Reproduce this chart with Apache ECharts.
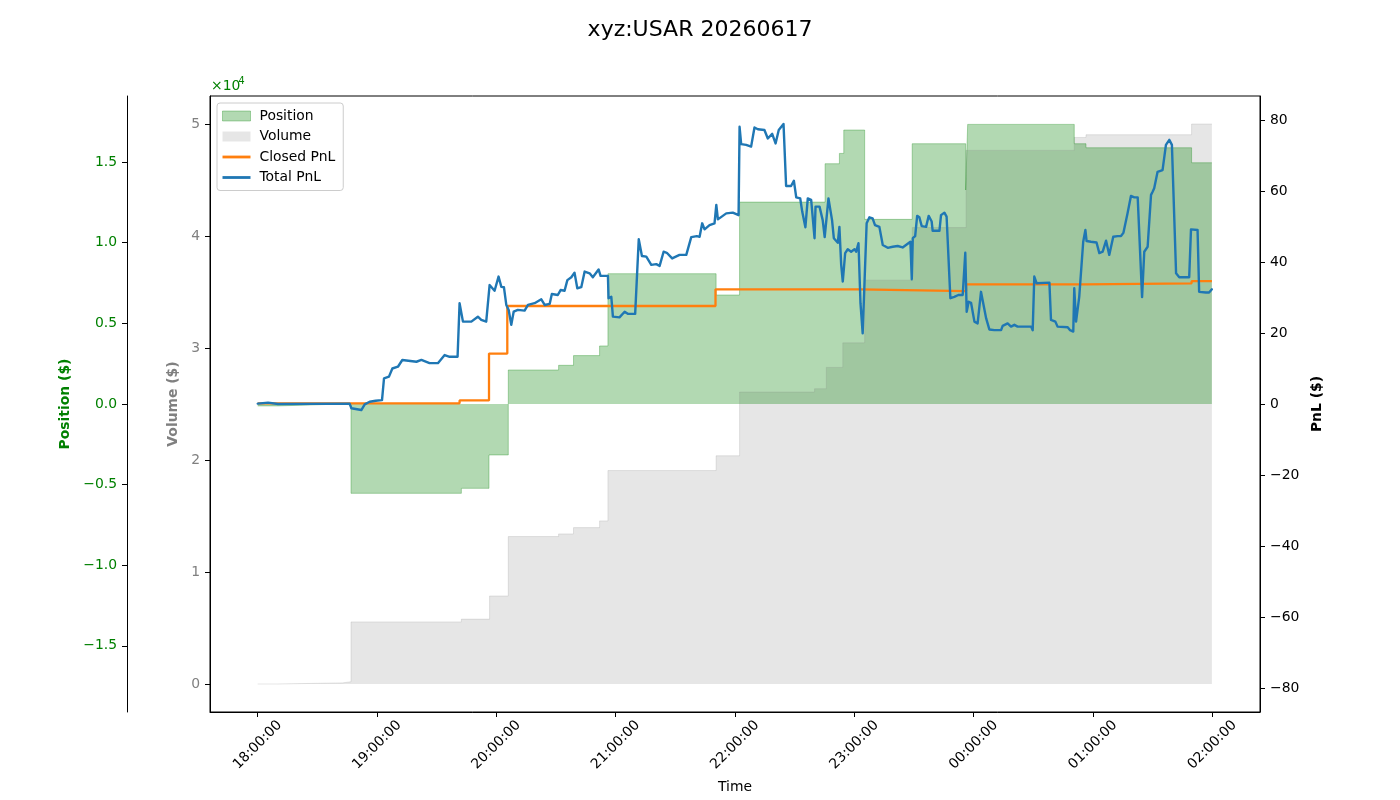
<!DOCTYPE html>
<html>
<head>
<meta charset="utf-8">
<title>xyz:USAR 20260617</title>
<script src="https://cdn.jsdelivr.net/npm/echarts@6.0.0/dist/echarts.min.js"></script>
<style>
  html, body { margin: 0; padding: 0; background: #fff; }
  #chart { width: 1400px; height: 800px; }
</style>
</head>
<body>
<div id="chart"></div>
<script>
// times are minutes after 18:00:00
const positionTimes = [0, 10.2, 42.7, 46.9, 102.4, 116.3, 126.0, 151.3, 158.8, 171.9, 176.1, 230.5, 242.3, 285.3, 292.5, 294.7, 305.2, 329.1, 356.0, 357.0, 410.6, 416.5, 469.6, 479.8]
const positionValues = [-120, 0, -60, -5540, -5230, -3160, 2110, 2400, 3000, 3600, 8080, 6760, 12520, 14900, 15540, 16990, 11450, 16140, 13270, 17340, 16140, 15890, 14960, 14960]

const volumeTimes = [0, 10.1, 42.6, 46.9, 102.4, 116.6, 126.0, 151.3, 158.8, 171.9, 176.1, 230.5, 242.3, 280.0, 285.9, 294.2, 305.2, 329.1, 356.2, 410.6, 416.5, 469.6, 479.8]
const volumeValues = [0, 100, 200, 5550, 5800, 7870, 13180, 13420, 13980, 14580, 19080, 20400, 26100, 26400, 28300, 30500, 36100, 40800, 47700, 48860, 49100, 50060, 50060]

const closedTimes = [0, 101.5, 116.3, 125.5, 230.2, 302.9, 356.2, 416.5, 469.6, 479.8]
const closedPnl = [0.2, 1.0, 14.2, 27.6, 32.3, 31.8, 33.7, 34.0, 34.6, 34.6]

const totalTimes = [
  0, 5.2, 10.2, 46.2, 47.1, 52.1, 53.8, 56.3, 59.3, 62.5, 63.5, 66.0, 67.7, 70.5, 72.7, 79.8, 82.3, 86.4, 90.6, 94.0,
  96.5, 100.5, 101.5, 103.2, 107.4, 110.7, 112.4, 114.9, 116.6, 119.1, 120.0, 121.1, 122.5, 123.8, 125.0, 126.2, 127.5, 128.7, 130.8, 134.2,
  135.9, 139.2, 142.6, 144.3, 146.8, 147.9, 150.9, 152.3, 154.3, 155.7, 157.7, 159.3, 160.7, 162.7, 164.4, 166.9, 168.5, 171.4, 172.4, 176.1,
  176.4, 177.8, 178.6, 181.9, 184.5, 186.1, 189.8, 191.6, 193.2, 195.4, 197.9, 200.4, 202.1, 204.1, 205.7, 208.4, 212.1, 215.5, 218.0, 220.8,
  222.2, 223.5, 224.7, 227.2, 229.7, 230.6, 231.4, 235.6, 238.9, 241.8, 242.3, 243.1, 245.6, 248.1, 249.8, 251.5, 254.8, 256.5, 258.7, 260.4,
  262.0, 264.4, 265.7, 268.2, 269.6, 270.8, 272.8, 273.8, 275.4, 276.6, 278.3, 280.0, 280.5, 282.5, 284.1, 285.1, 287.0, 288.8, 289.7, 291.7,
  292.5, 293.4, 294.2, 295.4, 296.7, 298.4, 300.1, 300.9, 302.1, 303.1, 304.2, 305.1, 306.2, 307.6, 309.2, 310.4, 312.6, 314.3, 316.8, 319.3,
  321.8, 324.3, 326.0, 328.2, 328.9, 329.4, 330.6, 331.6, 332.7, 333.9, 336.1, 337.4, 338.9, 339.4, 342.8, 343.6, 345.3, 346.4, 348.3, 350.3,
  352.3, 354.5, 355.8, 356.5, 357.5, 358.7, 360.4, 362.0, 363.7, 364.6, 366.3, 367.9, 370.4, 373.8, 374.6, 377.1, 378.8, 380.5, 382.1, 388.9,
  389.7, 390.5, 391.7, 398.1, 398.9, 401.1, 402.2, 407.3, 408.5, 410.1, 410.6, 411.5, 412.3, 413.1, 414.0, 415.1, 416.2, 416.8, 419.0, 421.8,
  423.2, 424.9, 426.6, 428.2, 430.2, 432.4, 434.1, 435.3, 436.3, 437.4, 439.1, 440.8, 442.5, 444.7, 445.8, 447.5, 449.2, 450.0, 450.8, 452.5,
  455.0, 456.7, 458.4, 459.7, 460.4, 461.8, 463.4, 468.4, 469.3, 472.6, 473.4, 476.8, 478.4, 479.8
]
const totalPnl = [
  0.1, 0.4, 0, 0.1, -1.2, -1.7, -0.1, 0.65, 0.9, 1.1, 7.2, 7.7, 10.0, 10.5, 12.4, 11.9, 12.4, 11.5, 11.5, 13.8,
  13.3, 13.3, 28.4, 23.2, 23.2, 24.6, 23.7, 23.2, 33.5, 31.9, 32.3, 35.9, 33.0, 32.9, 27.9, 26.5, 22.3, 26.0, 26.5, 26.3,
  27.9, 28.4, 29.5, 27.9, 28.2, 31.0, 30.7, 32.1, 31.9, 34.9, 35.7, 37.0, 32.6, 32.9, 37.3, 36.8, 35.7, 37.9, 36.1, 36.1,
  29.8, 30.2, 24.6, 24.4, 26.0, 25.4, 25.4, 46.4, 41.7, 41.5, 39.2, 39.4, 38.9, 42.9, 42.6, 41.0, 42.0, 42.0, 47.0, 47.3,
  47.1, 50.9, 49.2, 50.4, 50.9, 56.1, 52.0, 53.7, 53.9, 53.2, 78.1, 73.2, 73.0, 72.5, 77.9, 77.4, 77.2, 74.8, 76.1, 73.4,
  77.2, 78.9, 61.4, 61.4, 62.9, 58.2, 57.9, 54.2, 49.8, 57.9, 57.5, 46.7, 55.6, 55.6, 51.8, 47.0, 57.9, 51.8, 46.7, 45.4,
  49.9, 39.2, 34.5, 42.5, 43.6, 42.9, 43.6, 42.9, 45.3, 28.4, 19.9, 19.9, 50.9, 52.6, 52.3, 50.4, 49.9, 44.8, 44.0, 44.3,
  44.5, 44.1, 44.8, 45.7, 35.1, 46.7, 47.3, 53.0, 52.6, 50.1, 49.9, 53.0, 51.4, 48.8, 48.8, 53.2, 53.9, 52.8, 29.8, 30.2,
  30.7, 30.7, 42.6, 26.0, 28.8, 28.5, 23.2, 22.7, 31.6, 31.2, 24.1, 21.0, 20.8, 20.8, 22.0, 22.7, 21.8, 22.3, 21.8, 21.8,
  20.8, 35.9, 34.0, 34.2, 23.7, 23.2, 21.8, 21.6, 20.8, 20.4, 32.6, 23.2, 23.5, 30.2, 30.7, 45.7, 49.0, 45.9, 45.7, 45.5,
  42.5, 42.9, 46.0, 42.0, 47.1, 47.3, 47.3, 48.2, 47.9, 53.7, 58.6, 58.2, 58.2, 30.1, 42.9, 44.3, 58.9, 59.8, 60.8, 65.4,
  65.9, 73.0, 74.4, 73.0, 72.7, 36.8, 35.7, 35.7, 49.2, 49.0, 31.6, 31.4, 31.4, 32.3
]

const hourTicks = [0, 60, 120, 180, 240, 300, 360, 420, 480]
const positionTicks = [-15000, -10000, -5000, 0, 5000, 10000, 15000]
const volumeTicks = [0, 10000, 20000, 30000, 40000, 50000]
const pnlTicks = [-80, -60, -40, -20, 0, 20, 40, 60, 80]

const pairs = (xs, ys) => xs.map((x, i) => [x, ys[i]])
const minus = (s) => s.replace('-', '\u2212')
const pad2 = (n) => (n < 10 ? '0' : '') + n

const FONT = 'DejaVu Sans'
const FS = 13.9

const chart = echarts.init(document.getElementById('chart'))

const option = {
  animation: false,
  backgroundColor: '#ffffff',
  textStyle: { fontFamily: FONT },
  title: {
    text: 'xyz:USAR 20260617',
    left: 'center',
    top: 14,
    textStyle: { fontFamily: FONT, fontSize: 22, fontWeight: 'normal', color: '#000' }
  },
  legend: {
    orient: 'vertical',
    left: 217,
    top: 103,
    padding: [6, 8, 6, 5],
    itemGap: 6.5,
    itemWidth: 28,
    itemHeight: 10,
    backgroundColor: 'rgba(255,255,255,0.8)',
    borderColor: '#cccccc',
    borderWidth: 1,
    borderRadius: 3,
    textStyle: { fontFamily: FONT, fontSize: FS, color: '#000', padding: [0, 0, 0, 4] },
    data: [
      { name: 'Position', icon: 'rect', itemStyle: { color: 'rgba(0,128,0,0.3)', borderColor: 'rgba(0,128,0,0.3)', borderWidth: 1 } },
      { name: 'Volume', icon: 'rect', itemStyle: { color: 'rgba(128,128,128,0.2)', borderWidth: 0 } },
      { name: 'Closed PnL', icon: 'path://M0,0H28V2.8H0Z', itemStyle: { color: '#ff7f0e' } },
      { name: 'Total PnL', icon: 'path://M0,0H28V2.8H0Z', itemStyle: { color: '#1f77b4' } }
    ]
  },
  grid: {
    left: 210,
    right: 140,
    top: 96,
    bottom: 88,
    show: true,
    borderColor: '#000',
    borderWidth: 1,
    backgroundColor: 'transparent'
  },
  graphic: [
    { type: 'text', left: 211, top: 79, style: { text: '\u00d710', fontFamily: FONT, fontSize: FS, fill: '#008000' } },
    { type: 'text', left: 238.5, top: 76, style: { text: '4', fontFamily: FONT, fontSize: 9.7, fill: '#008000' } }
  ],
  xAxis: {
    type: 'value',
    min: -24,
    max: 504,
    name: 'Time',
    nameLocation: 'middle',
    nameGap: 68,
    nameTextStyle: { fontFamily: FONT, fontSize: FS, color: '#000' },
    splitLine: { show: false },
    axisLine: { show: true, onZero: false, lineStyle: { color: '#000', width: 1 } },
    axisTick: { show: true, customValues: hourTicks, length: 5, lineStyle: { color: '#000' } },
    axisLabel: {
      customValues: hourTicks,
      rotate: 45,
      align: 'center',
      verticalAlign: 'middle',
      margin: 33,
      fontFamily: FONT,
      fontSize: FS,
      color: '#000',
      formatter: (v) => {
        const t = (18 * 60 + Math.round(v)) % 1440
        return pad2(Math.floor(t / 60)) + ':' + pad2(t % 60) + ':00'
      }
    }
  },
  yAxis: [
    {
      type: 'value',
      position: 'left',
      offset: 83,
      min: -19100,
      max: 19100,
      name: 'Position ($)',
      nameLocation: 'middle',
      nameGap: 51,
      nameRotate: 90,
      nameTextStyle: { fontFamily: FONT, fontSize: FS, fontWeight: 'bold', color: '#008000' },
      splitLine: { show: false },
      axisLine: { show: true, onZero: false, lineStyle: { color: '#000', width: 1 } },
      axisTick: { show: true, customValues: positionTicks, length: 5, lineStyle: { color: '#000' } },
      axisLabel: {
        customValues: positionTicks,
        margin: 10,
        fontFamily: FONT,
        fontSize: FS,
        color: '#008000',
        formatter: (v) => minus((v / 10000).toFixed(1))
      }
    },
    {
      type: 'value',
      position: 'left',
      offset: 0,
      min: -2503,
      max: 52563,
      name: 'Volume ($)',
      nameLocation: 'middle',
      nameGap: 26,
      nameRotate: 90,
      nameTextStyle: { fontFamily: FONT, fontSize: FS, fontWeight: 'bold', color: '#808080' },
      splitLine: { show: false },
      axisLine: { show: true, onZero: false, lineStyle: { color: '#000', width: 1 } },
      axisTick: { show: true, customValues: volumeTicks, length: 5, lineStyle: { color: '#000' } },
      axisLabel: {
        customValues: volumeTicks,
        margin: 10,
        fontFamily: FONT,
        fontSize: FS,
        color: '#808080',
        formatter: (v) => String(Math.round(v / 10000))
      }
    },
    {
      type: 'value',
      position: 'right',
      min: -86.76,
      max: 86.76,
      name: 'PnL ($)',
      nameLocation: 'middle',
      nameGap: 44,
      nameRotate: 90,
      nameTextStyle: { fontFamily: FONT, fontSize: FS, fontWeight: 'bold', color: '#000' },
      splitLine: { show: false },
      axisLine: { show: true, onZero: false, lineStyle: { color: '#000', width: 1 } },
      axisTick: { show: true, customValues: pnlTicks, length: 5, lineStyle: { color: '#000' } },
      axisLabel: {
        customValues: pnlTicks,
        margin: 10,
        fontFamily: FONT,
        fontSize: FS,
        color: '#000',
        formatter: (v) => minus(String(v))
      }
    }
  ],
  series: [
    {
      name: 'Volume',
      type: 'line',
      step: 'end',
      yAxisIndex: 1,
      symbol: 'none',
      data: pairs(volumeTimes, volumeValues),
      lineStyle: { color: 'rgba(128,128,128,0.2)', width: 1 },
      itemStyle: { color: 'rgba(128,128,128,0.2)' },
      areaStyle: { color: 'rgba(128,128,128,0.2)', origin: 0, opacity: 1 }
    },
    {
      name: 'Position',
      type: 'line',
      step: 'end',
      yAxisIndex: 0,
      symbol: 'none',
      data: pairs(positionTimes, positionValues),
      lineStyle: { color: 'rgba(0,128,0,0.3)', width: 1 },
      itemStyle: { color: 'rgba(0,128,0,0.3)' },
      areaStyle: { color: 'rgba(0,128,0,0.3)', origin: 0, opacity: 1 }
    },
    {
      name: 'Closed PnL',
      type: 'line',
      step: 'end',
      yAxisIndex: 2,
      symbol: 'none',
      data: pairs(closedTimes, closedPnl),
      lineStyle: { color: '#ff7f0e', width: 2.3 },
      itemStyle: { color: '#ff7f0e' }
    },
    {
      name: 'Total PnL',
      type: 'line',
      yAxisIndex: 2,
      symbol: 'none',
      data: pairs(totalTimes, totalPnl),
      lineStyle: { color: '#1f77b4', width: 2.4, join: 'round', cap: 'round' },
      itemStyle: { color: '#1f77b4' }
    }
  ]
}

chart.setOption(option)
</script>
</body>
</html>
